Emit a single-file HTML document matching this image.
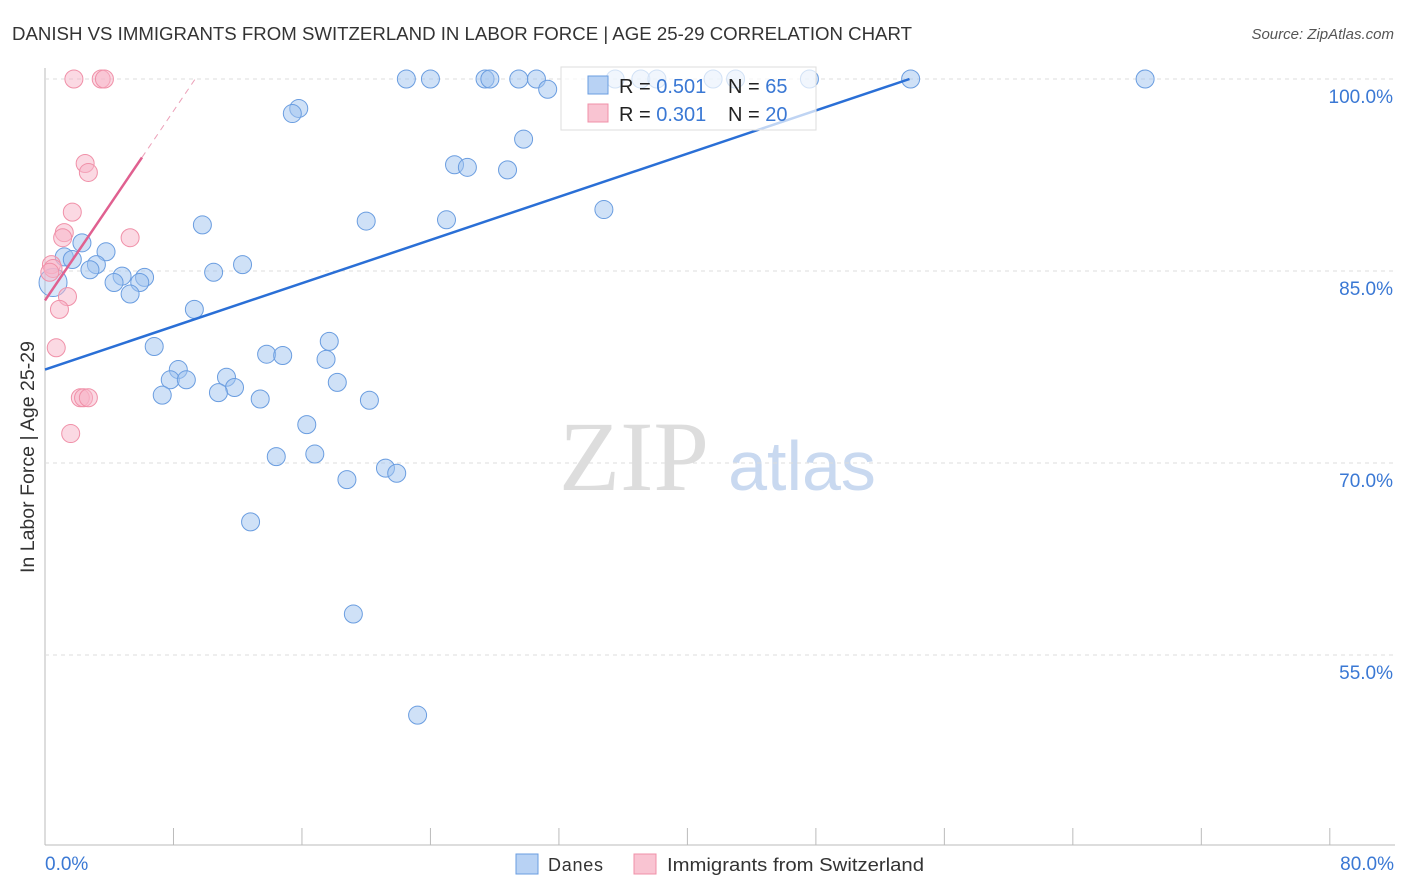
<!DOCTYPE html>
<html><head><meta charset="utf-8"><style>
body{margin:0;background:#fff;font-family:"Liberation Sans",sans-serif;}
#c{position:relative;width:1406px;height:892px;overflow:hidden}
</style></head><body>
<div id="c">
<svg id="s" width="1406" height="892" xmlns="http://www.w3.org/2000/svg">
<text x="12" y="40" font-size="18" fill="#333" textLength="900" lengthAdjust="spacingAndGlyphs">DANISH VS IMMIGRANTS FROM SWITZERLAND IN LABOR FORCE | AGE 25-29 CORRELATION CHART</text>
<text x="1394" y="39" font-size="15" fill="#555" font-style="italic" text-anchor="end">Source: ZipAtlas.com</text>
<text x="634" y="490" font-size="100" fill="#ddd" font-family="Liberation Serif, serif" text-anchor="middle">ZIP</text>
<text x="802" y="490" font-size="70" fill="#c9d9f0" text-anchor="middle">atlas</text>
<text transform="translate(34,457) rotate(-90)" font-size="19" fill="#333" text-anchor="middle" textLength="232" lengthAdjust="spacingAndGlyphs">In Labor Force | Age 25-29</text>
<g id="grid"></g><g id="pts"></g><g id="lines"></g>
<rect x="561" y="67" width="255" height="63" fill="#fff" fill-opacity="0.7" stroke="#ddd"/>
<rect x="588" y="76" width="20" height="18" fill="#b8d2f4" stroke="#6a9de0"/>
<rect x="588" y="104" width="20" height="18" fill="#f9c4d2" stroke="#f090a8"/>
<text x="619" y="93" font-size="20" fill="#222">R = <tspan fill="#3a78d4">0.501</tspan></text>
<text x="728" y="93" font-size="20" fill="#222">N = <tspan fill="#3a78d4">65</tspan></text>
<text x="619" y="121" font-size="20" fill="#222">R = <tspan fill="#3a78d4">0.301</tspan></text>
<text x="728" y="121" font-size="20" fill="#222">N = <tspan fill="#3a78d4">20</tspan></text>
<text x="45" y="870" font-size="19" fill="#3a78d4">0.0%</text>
<text x="1394" y="870" font-size="19" fill="#3a78d4" text-anchor="end">80.0%</text>
<rect x="516" y="854" width="22" height="20" fill="#b8d2f4" stroke="#6a9de0"/>
<text x="548" y="871" font-size="18" fill="#333" textLength="55">Danes</text>
<rect x="634" y="854" width="22" height="20" fill="#f9c4d2" stroke="#f090a8"/>
<text x="667" y="871" font-size="18" fill="#333" textLength="257" lengthAdjust="spacingAndGlyphs">Immigrants from Switzerland</text>
</svg></div>
<script>
const yTicks=[100,85,70,55];
const xTicks=[0,8,16,24,32,40,48,56,64,72,80];
const danesX=[22.5,24.0,27.4,27.7,29.5,30.6,31.3,35.5,37.1,38.1,41.6,43.0,47.6,53.9,68.5,15.8,15.4,29.8,25.5,26.3,28.8,34.8,20.0,25.0,9.8,2.3,3.8,1.2,1.7,3.2,12.3,2.8,4.8,10.5,6.2,5.9,4.3,5.3,9.3,6.8,17.7,13.8,14.8,17.5,8.3,7.8,8.8,11.3,18.2,11.8,10.8,7.3,13.4,20.2,16.3,14.4,16.8,21.2,21.9,18.8,12.8,19.2,23.2];
const danesY=[100,100,100,100,100,100,99.2,100,100,100,100,100,100,100,100,97.7,97.3,95.3,93.3,93.1,92.9,89.8,88.9,89.0,88.6,87.2,86.5,86.1,85.9,85.5,85.5,85.1,84.6,84.9,84.5,84.1,84.1,83.2,82.0,79.1,79.5,78.5,78.4,78.1,77.3,76.5,76.5,76.7,76.3,75.9,75.5,75.3,75.0,74.9,73.0,70.5,70.7,69.6,69.2,68.7,65.4,58.2,50.3];
const swissX=[1.8,3.5,3.7,2.5,2.7,1.7,1.2,1.1,5.3,0.4,0.5,0.3,1.4,0.9,0.7,2.2,2.4,2.7,1.6];
const swissY=[100,100,100,93.4,92.7,89.6,88.0,87.6,87.6,85.5,85.2,84.9,83.0,82.0,79.0,75.1,75.1,75.1,72.3];
const danesTrend=[77.3,0.4217];
const swissTrend=[82.7,1.85];
const X=v=>45+v*16.06, Y=v=>79+(100-v)*12.8;
const NS="http://www.w3.org/2000/svg";
function mk(t,a,p){const e=document.createElementNS(NS,t);for(const k in a)e.setAttribute(k,a[k]);p.appendChild(e);return e;}
const g=document.getElementById('grid');
mk('line',{x1:45,y1:68,x2:45,y2:845,stroke:'#bbb'},g);
mk('line',{x1:45,y1:845,x2:1395,y2:845,stroke:'#bbb'},g);
yTicks.forEach(t=>{
 const l=mk('line',{x1:45,y1:Y(t),x2:1395,y2:Y(t),stroke:'#ddd','stroke-dasharray':'4,4'},g);
 
 
 const tx=mk('text',{x:1393,y:Y(t)+24,'font-size':19,fill:'#3a78d4','text-anchor':'end'},g);
 tx.textContent=t.toFixed(1)+'%';
 
 
});
xTicks.forEach(t=>{
 const l=mk('line',{x1:X(t),y1:828,x2:X(t),y2:845,stroke:'#bbb'},g);
 
 
});
const p=document.getElementById('pts');
danesX.forEach((x,i)=>{
 const c=mk('circle',{cx:X(x),cy:Y(danesY[i]),r:9,fill:'rgba(160,196,240,0.5)',stroke:'#6a9de0','stroke-width':1},p);
 
 
});
const big=mk('circle',{cx:X(0.5),cy:Y(84.1),r:14,fill:'rgba(160,196,240,0.4)',stroke:'#6a9de0'},p);


swissX.forEach((x,i)=>{
 const c=mk('circle',{cx:X(x),cy:Y(swissY[i]),r:9,fill:'rgba(248,180,200,0.5)',stroke:'#f090a8','stroke-width':1},p);
 
 
});
const L=document.getElementById('lines');
const xe=(100-danesTrend[0])/danesTrend[1];
const bl=mk('line',{x1:X(0),y1:Y(danesTrend[0]),x2:X(xe),y2:Y(100),stroke:'#2a6fd6','stroke-width':2.5},L);


const xs=6.04, xe2=(100-swissTrend[0])/swissTrend[1];
const pl=mk('line',{x1:X(0),y1:Y(swissTrend[0]),x2:X(xs),y2:Y(swissTrend[0]+swissTrend[1]*xs),stroke:'#e06090','stroke-width':2.5},L);


const pd=mk('line',{x1:X(xs),y1:Y(swissTrend[0]+swissTrend[1]*xs),x2:X(xe2),y2:Y(100),stroke:'#eca0b8','stroke-width':1,'stroke-dasharray':'6,5'},L);


</script>
</body></html>
